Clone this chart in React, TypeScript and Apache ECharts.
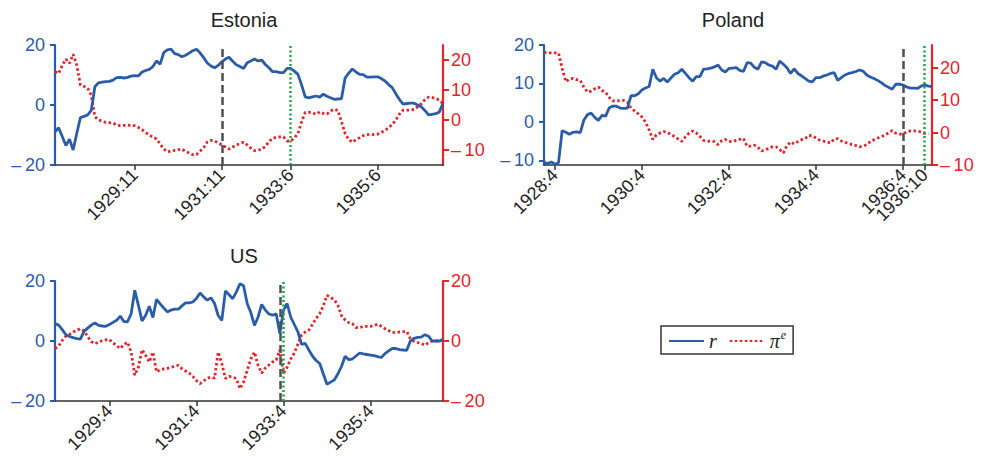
import React, { useEffect, useRef } from "react";
import * as echarts from "echarts";

// Monthly categories, 1928:1 through 1936:12
const months: string[] = [];
for (let y = 1928; y <= 1936; y++) {
  for (let m = 1; m <= 12; m++) months.push(`${y}:${m}`);
}

// Estonia
const estoniaR = [
  -8.9, -7.6, -10.5, -13.5, -11.4, -15, -9.5, -4.2, -3.8, -3.3, -1.8, 6.1,
  7.4, 7.6, 7.8, 7.9, 8.3, 9.1, 9.2, 9.0, 9.2, 9.6, 9.8, 9.7,
  11.0, 11.5, 11.9, 12.8, 14.7, 13.6, 17.5, 18.4, 18.6, 17.1, 16.8, 16.1,
  16.6, 17.3, 18.1, 18.6, 17.4, 15.8, 14.0, 13.0, 12.4, 13.2, 14.4, 15.3,
  15.9, 14.6, 13.4, 12.8, 12.2, 14.1, 14.7, 15.3, 14.7, 15.0, 13.5, 12.4,
  11.1, 11.1, 10.8, 10.8, 12.2, 12.2, 11.3, 10.2, 6.7, 2.7, 2.4, 2.7,
  3.0, 2.6, 3.6, 2.9, 2.4, 1.9, 2.0, 2.1, 9.0, 10.6, 12.0, 11.0,
  10.2, 10.1, 9.3, 9.3, 9.4, 9.4, 8.8, 8.0, 6.8, 5.8, 3.7, 1.8,
  0.3, 0.5, 0.6, 0.6, 0.0, -0.6, -1.8, -3.3, -3.1, -2.9, -2.3, 0.6,
];
const estoniaPi = [
  16.1, 15.5, 18.2, 20.3, 18.9, 21.9, 18.3, 11.7, 11.2, 10.6, 8.3, 1.1,
  0.0, -0.4, -0.8, -0.9, -1.0, -1.7, -1.9, -1.8, -1.7, -1.8, -1.9, -2.5,
  -3.2, -4.2, -5.0, -5.7, -6.3, -8.0, -9.7, -10.6, -10.4, -10.1, -9.9, -9.7,
  -10.5, -11.0, -11.6, -11.5, -10.4, -9.2, -7.3, -6.8, -7.0, -7.6, -8.3, -9.0,
  -9.7, -9.0, -8.3, -7.9, -7.4, -8.3, -9.4, -10.2, -10.0, -9.8, -8.8, -7.3,
  -6.1, -5.8, -5.6, -5.6, -7.0, -7.0, -6.0, -4.5, -0.6, 2.5, 2.6, 2.4,
  1.9, 2.7, 2.2, 2.0, 3.0, 3.6, 3.2, -0.5, -4.5, -6.5, -7.4, -6.5,
  -5.9, -5.2, -4.9, -4.7, -4.9, -4.7, -4.1, -3.5, -2.6, -1.5, 0.0, 2.0,
  3.3, 3.3, 3.3, 3.5, 4.4, 5.4, 6.8, 7.6, 7.5, 7.2, 6.6, 5.4,
];

// Poland
const polandR = [
  -10.5, -10.8, -10.4, -11, -10.6, -2.3, -2.7, -3.2, -2.7, -2.6, -2.8, 0.5,
  1.9, 2.3, 1.2, 0.4, 1.7, 1.5, 3.7, 4.1, 4.1, 3.6, 3.5, 3.6,
  6.8, 6.8, 7.3, 8.3, 8.8, 9.2, 13.7, 11.5, 10.6, 11.3, 10.4, 11.4,
  12.4, 12.8, 13.7, 12.6, 11.5, 10.6, 11.8, 11.8, 13.7, 13.8, 14.0, 14.3,
  14.8, 13.5, 13.0, 13.9, 14.0, 14.1, 13.4, 13.1, 15.4, 15.3, 14.2, 13.7,
  15.6, 15.4, 14.8, 14.5, 13.7, 15.8, 15.0, 14.1, 12.6, 13.8, 12.6, 12.0,
  11.3, 10.6, 10.4, 11.5, 11.5, 11.9, 12.2, 12.6, 12.8, 10.8, 11.5, 12.2,
  12.6, 12.8, 13.1, 13.5, 13.2, 12.2, 11.7, 11.3, 10.8, 10.2, 9.5, 9.0,
  8.5, 9.8, 9.8, 9.6, 9.1, 8.8, 8.8, 8.7, 9.3, 9.6, 9.3, 9.2,
];
const polandPi = [
  24.7, 24.6, 24.6, 24.6, 24.5, 19.8, 15.7, 16.5, 16.7, 16.3, 16.1, 14.0,
  12.5, 12.8, 13.5, 14.0, 13.0, 12.4, 10.8, 9.8, 9.7, 9.9, 9.9, 9.4,
  7.5, 6.7, 5.8, 4.8, 3.2, 0.8, -2.1, -0.7, -0.1, 0.3, 0.1, -0.6,
  -1.2, -2.0, -2.7, -1.3, -0.2, 0.5, -0.1, -1.2, -2.4, -2.6, -2.7, -2.8,
  -3.7, -2.5, -2.1, -2.7, -2.8, -2.4, -2.1, -1.8, -4.2, -4.2, -3.9, -4.5,
  -5.7, -5.3, -4.9, -4.4, -4.4, -5.2, -6.3, -4.0, -2.9, -3.5, -2.8, -2.2,
  -1.9, -0.9, -1.0, -1.7, -2.3, -2.6, -2.9, -3.2, -2.0, -1.9, -2.6, -3.0,
  -3.4, -3.7, -4.0, -4.4, -4.2, -3.7, -2.8, -2.2, -1.7, -1.3, -0.8, -0.1,
  0.6, -0.2, -0.5, -0.4, 0.2, 0.5, 0.5, 0.4, 0.2, -0.3, -0.4,
];

// US
const usR = [
  5.8, 5.3, 3.8, 2.1, 1.5, 1.1, 0.8, 0.6, 3.2, 4.3, 5.3, 6.0,
  5.2, 5.0, 4.9, 5.5, 6.2, 6.9, 8.3, 6.5, 6.4, 9.1, 16.9, 11.9,
  6.7, 8.6, 11.6, 7.8, 13.9, 12.4, 11.0, 9.7, 10.3, 10.6, 10.6, 11.7,
  12.7, 12.7, 13.0, 14.2, 16.0, 14.7, 13.6, 14.4, 12.5, 8.5, 6.9, 16.7,
  15.4, 14.1, 16.3, 19.1, 18.4, 12.5, 9.5, 5.2, 8.0, 12.2, 10.3, 9.0,
  8.6, 9.1, 2.5, 10.2, 12.5, 8.0, 5.5, 3.0, -1.1, -0.8, -3.0, -5.0,
  -6.5, -7.5, -11.0, -14.4, -13.7, -13.0, -11.0, -8.5, -5.1, -6.2, -6.0, -5.0,
  -4.0, -4.3, -4.5, -4.7, -4.9, -5.2, -5.5, -4.2, -3.3, -2.5, -2.5, -2.9,
  -3.0, -3.1, 0.0, 0.9, 1.2, 1.3, 2.1, 1.6, 0.0, 0.0, 0.0, 0.6,
];
const usPi = [
  -2.5, -1.7, 0.2, 1.6, 2.2, 3.0, 3.6, 4.1, 3.4, 1.5, -0.2, -0.9,
  -0.4, 0.1, 0.4, 0.5, -0.6, -1.6, -2.5, -1.2, -0.4, -3.7, -11.4, -8.7,
  -2.9, -4.8, -7.0, -3.7, -10.3, -9.6, -9.3, -9.1, -8.8, -8.4, -8.1, -9.2,
  -10.0, -10.7, -11.8, -13.2, -14.2, -13.3, -12.4, -12.0, -12.4, -3.7, -7.5, -12.5,
  -11.8, -12.0, -12.5, -15.9, -13.7, -9.8, -6.0, -3.7, -8.1, -10.7, -9.0, -8.0,
  -7.0, -6.3, -3.0, -10.8, -8.8, -6.0, -4.0, -1.0, 2.0, 3.0, 3.6, 5.5,
  7.5, 9.1, 11.8, 15.2, 14.5, 13.8, 11.9, 8.5, 7.0, 6.1, 5.8, 4.5,
  4.4, 4.9, 4.9, 4.9, 5.2, 5.6, 4.9, 4.1, 3.5, 2.8, 2.9, 3.0,
  3.1, 3.2, 0.8, -0.1, -0.5, -0.8, -1.4, -0.5, 0.0, 0.0, 0.0, 0.2,
];

// Labelled months on each panel's time axis
const estoniaTicks = ["1929:11", "1931:11", "1933:6", "1935:6"];
const polandTicks = ["1928:4", "1930:4", "1932:4", "1934:4", "1936:4"];
// Labelled on an overlay axis so that it may overlap its neighbour
const polandLateTicks = ["1936:10"];
const usTicks = ["1929:4", "1931:4", "1933:4", "1935:4"];

// Reference dates marked by vertical lines
const estoniaEvents = ["1931:11", "1933:6"];
const polandEvents = ["1936:4", "1936:10"];
const usEvents = ["1933:3", "1933:4"];

const BLUE = "#2b5ca8";
const RED = "#e4232b";
const GREEN = "#1ba34b";
const GRAY = "#4f4f4f";
const INK = "#222";
const FONT = '"Liberation Sans", Arial, Helvetica, sans-serif';
const SERIF = '"Liberation Serif", "Times New Roman", serif';

const minus = (v: number) => (v < 0 ? "\u2013\u2009" + Math.abs(v) : String(v));

type Panel = {
  title: string;
  left: number;
  top: number;
  r: number[];
  pi: number[];
  ticks: string[];
  extraTicks?: string[];
  events: string[];
  lMin: number;
  lMax: number;
  lTicks: number[];
  rMin: number;
  rMax: number;
  rTicks: number[];
};

const panels: Panel[] = [
  {
    title: "Estonia", left: 55, top: 45, r: estoniaR, pi: estoniaPi,
    ticks: estoniaTicks, events: estoniaEvents,
    lMin: -20, lMax: 20, lTicks: [-20, 0, 20],
    rMin: -15, rMax: 25, rTicks: [-10, 0, 10, 20],
  },
  {
    title: "Poland", left: 544, top: 45, r: polandR, pi: polandPi,
    ticks: polandTicks, extraTicks: polandLateTicks, events: polandEvents,
    lMin: -11.2, lMax: 20, lTicks: [-10, 0, 10, 20],
    rMin: -10, rMax: 27, rTicks: [-10, 0, 10, 20],
  },
  {
    title: "US", left: 55, top: 281, r: usR, pi: usPi,
    ticks: usTicks, events: usEvents,
    lMin: -20, lMax: 20, lTicks: [-20, 0, 20],
    rMin: -20, rMax: 20, rTicks: [-20, 0, 20],
  },
];

const GRID_W = 388;
const GRID_H = 120;

function timeAxis(gridIndex: number, labelled: string[], showLine: boolean) {
  const pick = (_idx: number, val: string) => labelled.includes(val);
  return {
    type: "category",
    gridIndex,
    position: "bottom",
    data: months,
    boundaryGap: false,
    axisLine: { show: showLine, onZero: false, lineStyle: { color: "#333", width: 1.5 } },
    axisTick: { show: true, length: 5, interval: pick, lineStyle: { color: "#333", width: 1.5 } },
    axisLabel: {
      interval: pick,
      hideOverlap: false,
      rotate: 45,
      fontSize: 18,
      fontFamily: FONT,
      color: INK,
      margin: 7,
    },
    splitLine: { show: false },
  };
}

function buildOption() {
  const grid = panels.map((p) => ({
    left: p.left, top: p.top, width: GRID_W, height: GRID_H, containLabel: false,
  }));

  const xAxis: any[] = panels.map((p, i) => timeAxis(i, p.ticks, true));
  panels.forEach((p, i) => {
    if (p.extraTicks) xAxis.push(timeAxis(i, p.extraTicks, false));
  });

  const yAxis: any[] = [];
  panels.forEach((p, i) => {
    yAxis.push({
      type: "value",
      gridIndex: i,
      position: "left",
      min: p.lMin,
      max: p.lMax,
      axisLine: { show: true, lineStyle: { color: BLUE, width: 2.2 } },
      axisTick: { show: true, length: 5, customValues: p.lTicks, lineStyle: { color: BLUE, width: 2 } },
      axisLabel: {
        customValues: p.lTicks, color: BLUE, fontSize: 18, fontFamily: FONT, margin: 10,
        formatter: (v: number) => minus(v),
      },
      splitLine: { show: false },
    });
    yAxis.push({
      type: "value",
      gridIndex: i,
      position: "right",
      min: p.rMin,
      max: p.rMax,
      axisLine: { show: true, lineStyle: { color: RED, width: 2.2 } },
      axisTick: { show: true, length: 6, customValues: p.rTicks, lineStyle: { color: RED, width: 2 } },
      axisLabel: {
        customValues: p.rTicks, color: RED, fontSize: 18, fontFamily: FONT, margin: 8,
        formatter: (v: number) => minus(v),
      },
      splitLine: { show: false },
    });
  });

  const series: any[] = [];
  panels.forEach((p, i) => {
    series.push({
      type: "line",
      name: "r",
      xAxisIndex: i,
      yAxisIndex: 2 * i,
      data: p.r,
      symbol: "none",
      lineStyle: { color: BLUE, width: 2.8 },
      itemStyle: { color: BLUE },
      z: 3,
    });
    series.push({
      type: "line",
      name: "pi",
      xAxisIndex: i,
      yAxisIndex: 2 * i + 1,
      data: p.pi,
      symbol: "none",
      lineStyle: { color: RED, width: 2.8, type: [2.5, 2.5] },
      itemStyle: { color: RED },
      z: 2,
      markLine: {
        silent: true,
        symbol: ["none", "none"],
        label: { show: false },
        z: 4,
        data: [
          { xAxis: p.events[0], lineStyle: { color: GRAY, width: 2.5, type: [8, 4] } },
          { xAxis: p.events[1], lineStyle: { color: GREEN, width: 2.5, type: [2, 2.5] } },
        ],
      },
    });
  });

  const title = panels.map((p) => ({
    text: p.title,
    left: p.left + GRID_W / 2 - 5,
    top: p.top - 35,
    textAlign: "center",
    padding: 0,
    textStyle: { fontSize: 20, fontWeight: "normal", fontFamily: FONT, color: INK },
  }));

  return {
    animation: false,
    backgroundColor: "#fff",
    title,
    grid,
    xAxis,
    yAxis,
    series,
    legend: {
      data: ["r", "pi"],
      left: 661,
      top: 326,
      padding: [3, 7, 3, 7],
      itemGap: 12,
      itemWidth: 35,
      itemHeight: 14,
      borderColor: "#333",
      borderWidth: 1.5,
      selectedMode: false,
      itemStyle: { opacity: 0 },
      formatter: (name: string) => (name === "r" ? "{it|r}" : "{it|\u03c0}{sup|e}"),
      textStyle: {
        color: INK,
        rich: {
          it: { fontFamily: SERIF, fontStyle: "italic", fontSize: 20, color: INK },
          sup: { fontFamily: SERIF, fontStyle: "italic", fontSize: 12, color: INK, padding: [0, 0, 12, 1] },
        },
      },
    },
  };
}

export default function App() {
  const ref = useRef<HTMLDivElement>(null);
  useEffect(() => {
    if (!ref.current) return;
    const chart = echarts.init(ref.current, undefined, { renderer: "svg" });
    chart.setOption(buildOption() as any);
    return () => chart.dispose();
  }, []);
  return (
    <div
      ref={ref}
      style={{ position: "absolute", left: 0, top: 0, width: 982, height: 456, background: "#fff" }}
    />
  );
}
